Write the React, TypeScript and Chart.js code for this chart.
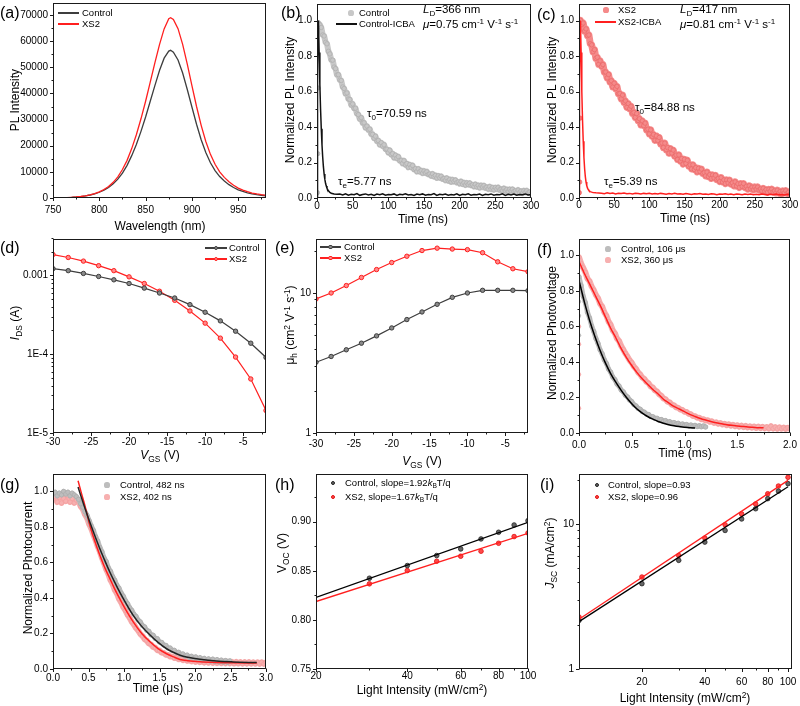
import React, { useEffect, useRef } from 'react';
import { Chart, registerables } from 'chart.js';
Chart.register(...registerables);

const FONT = '"Liberation Sans", Arial, Helvetica, sans-serif';
Chart.defaults.font.family = FONT;
Chart.defaults.font.size = 10;
Chart.defaults.color = '#000';

// ---------- (a) PL spectra ----------
const aWavelength = [750,755,760,765,770,775,780,785,790,795,800,805,810,815,820,825,830,835,840,845,850,855,860,865,870,875,877,880,885,890,895,900,905,910,915,920,925,930,935,940,945,950,955,960,965,970,975,980];
const aControl = [50,80,120,180,260,380,550,800,1150,1600,2200,3000,4000,5400,7200,9500,12500,16200,20500,25500,31000,37000,43000,48800,53500,56200,56500,55800,52800,47800,41500,34800,28200,22300,17400,13500,10500,8200,6500,5100,4000,3100,2500,2000,1600,1300,1050,850];
const aXS2 = [50,80,120,180,270,390,570,830,1200,1700,2350,3250,4400,6000,8100,10900,14400,18900,24200,30300,37000,44300,51700,58700,64700,68600,69000,68300,64800,58800,51200,43000,35000,27800,21600,16700,12900,10000,7900,6200,4900,3800,3000,2400,1900,1550,1250,1000];

// ---------- (b)/(c) TRPL ----------
const trplTime = [0.5,1,1.5,
2,4,6,8,10,12,14,16,18,20,22,24,26,28,30,32,34,36,38,40,42,44,46,48,50,52,54,56,58,60,
62,64,66,68,70,72,74,76,78,80,82,84,86,88,90,92,94,96,98,100,102,104,106,108,110,112,114,116,118,120,
122,124,126,128,130,132,134,136,138,140,142,144,146,148,150,152,154,156,158,160,162,164,166,168,170,172,174,176,178,180,
182,184,186,188,190,192,194,196,198,200,202,204,206,208,210,212,214,216,218,220,222,224,226,228,230,232,234,236,238,240,
242,244,246,248,250,252,254,256,258,260,262,264,266,268,270,272,274,276,278,280,282,284,286,288,290,292,294,296,298,300];
const bControl = [0.03,0.25,0.62,
0.985,0.976,0.961,0.919,0.913,0.878,0.869,0.827,0.812,0.778,
0.777,0.738,0.729,0.694,0.695,0.665,0.662,0.626,0.617,0.588,
0.592,0.558,0.555,0.524,0.530,0.505,0.506,0.475,0.470,0.445,
0.453,0.423,0.424,0.396,0.405,0.384,0.388,0.360,0.359,0.337,
0.348,0.321,0.324,0.300,0.312,0.293,0.300,0.275,0.275,0.256,
0.269,0.244,0.250,0.227,0.241,0.224,0.233,0.210,0.212,0.195,
0.210,0.187,0.194,0.173,0.188,0.173,0.183,0.161,0.165,0.149,
0.164,0.148,0.154,0.140,0.152,0.141,0.148,0.133,0.135,0.125,
0.136,0.120,0.127,0.113,0.125,0.114,0.122,0.107,0.110,0.100,
0.112,0.097,0.104,0.091,0.103,0.093,0.101,0.087,0.090,0.081,
0.093,0.078,0.086,0.073,0.085,0.076,0.084,0.071,0.074,0.065,
0.077,0.063,0.071,0.058,0.071,0.062,0.070,0.057,0.061,0.051,
0.064,0.050,0.058,0.046,0.059,0.050,0.059,0.046,0.050,0.041,
0.054,0.040,0.048,0.036,0.049,0.040,0.049,0.036,0.040,0.031,
0.045,0.031,0.039,0.027,0.041,0.032,0.041,0.029,0.033,0.024];
const cXS2 = [0.03,0.09,0.45,
1.001,0.977,0.986,0.941,0.953,0.915,0.919,0.870,0.863,0.824,
0.836,0.787,0.793,0.754,0.773,0.742,0.752,0.710,0.710,0.677,
0.696,0.654,0.661,0.626,0.647,0.617,0.629,0.588,0.589,0.559,
0.580,0.539,0.547,0.511,0.532,0.503,0.517,0.478,0.482,0.454,
0.476,0.437,0.447,0.412,0.435,0.408,0.422,0.384,0.388,0.361,
0.384,0.347,0.358,0.325,0.350,0.324,0.341,0.305,0.310,0.284,
0.309,0.272,0.284,0.252,0.278,0.253,0.270,0.235,0.242,0.217,
0.243,0.208,0.222,0.191,0.218,0.195,0.213,0.179,0.187,0.164,
0.187,0.160,0.171,0.147,0.167,0.149,0.163,0.138,0.143,0.125,
0.146,0.120,0.132,0.110,0.130,0.113,0.128,0.104,0.110,0.093,
0.115,0.090,0.102,0.081,0.102,0.085,0.101,0.078,0.085,0.069,
0.091,0.067,0.080,0.059,0.081,0.065,0.081,0.059,0.066,0.050,
0.069,0.052,0.061,0.046,0.062,0.050,0.062,0.045,0.051,0.040,
0.054,0.038,0.047,0.033,0.049,0.038,0.050,0.034,0.040,0.029,
0.044,0.028,0.037,0.023,0.040,0.029,0.041,0.026,0.032,0.021];
const icbaTime = [0,0.5,1,1.5,2,3,4,5,6,7,8,9,10,11,12,13,14,16,18,20,24,28,
32,36,40,44,48,52,56,60,64,68,72,76,80,84,88,92,96,100,104,108,112,116,120,124,128,132,136,140,144,148,152,156,160,164,168,172,176,180,184,188,192,196,200,204,208,212,216,220,224,228,232,236,240,244,248,252,256,260,264,268,272,276,280,284,288,292,296,300];
const bControlICBA = [0,0.3,0.75,0.97,1.0,0.82,0.64,0.5,0.39,0.3,0.23,0.175,0.135,0.105,0.083,0.067,0.055,0.04,0.032,0.027,0.023,0.021,
0.022,0.017,0.024,0.016,0.021,0.018,0.025,0.015,0.020,0.023,
0.017,0.021,0.014,0.022,0.019,0.024,0.016,0.020,0.018,0.023,
0.015,0.021,0.019,0.024,0.017,0.020,0.014,0.022,0.018,0.023,
0.016,0.020,0.019,0.025,0.015,0.021,0.018,0.022,0.016,0.020,
0.017,0.023,0.014,0.021,0.019,0.024,0.016,0.020,0.018,0.022,
0.015,0.021,0.019,0.023,0.016,0.020,0.018,0.024,0.015,0.021,
0.017,0.022,0.016,0.020,0.019,0.023,0.017,0.020];
const cXS2ICBA = [0.02,0.25,0.65,0.93,1.0,0.82,0.6,0.44,0.32,0.23,0.165,0.12,0.09,0.07,0.057,0.048,0.042,0.036,0.033,0.031,0.029,0.028,
0.027,0.024,0.029,0.025,0.028,0.023,0.027,0.025,0.028,0.024,
0.026,0.023,0.027,0.025,0.022,0.026,0.024,0.027,0.023,0.025,
0.022,0.026,0.024,0.021,0.025,0.023,0.026,0.022,0.024,0.021,
0.025,0.023,0.020,0.024,0.022,0.025,0.021,0.023,0.020,0.024,
0.022,0.019,0.023,0.021,0.024,0.020,0.022,0.019,0.023,0.021,
0.018,0.022,0.020,0.023,0.019,0.021,0.018,0.022,0.020,0.017,
0.021,0.019,0.022,0.018,0.020,0.017,0.021,0.019];

// ---------- (d)/(e) transistor ----------
const vgs = [-30,-28,-26,-24,-22,-20,-18,-16,-14,-12,-10,-8,-6,-4,-2];
const dControl = [1.22e-3,1.15e-3,1.06e-3,9.7e-4,8.8e-4,7.9e-4,6.9e-4,5.98e-4,5.17e-4,4.26e-4,3.41e-4,2.65e-4,1.96e-4,1.38e-4,9.1e-5];
const dXS2 = [1.84e-3,1.69e-3,1.52e-3,1.33e-3,1.15e-3,9.6e-4,7.9e-4,6.3e-4,4.83e-4,3.54e-4,2.48e-4,1.6e-4,9.2e-5,4.85e-5,1.93e-5];
const eControl = [3.2,3.52,3.93,4.38,4.94,5.63,6.46,7.32,8.3,9.31,10.0,10.45,10.45,10.45,10.4];
const eXS2 = [9.06,10.0,11.3,12.9,14.7,16.5,18.3,20.1,20.9,20.6,20.4,19.4,16.7,14.9,14.2];

// ---------- (f) TPV ----------
const tpvTime = [0,0.02,0.04,0.06,0.08,0.1,0.12,0.14,0.16,0.18,0.2,0.22,0.24,0.26,0.28,0.3,0.32,0.34,0.36,0.38,0.4,0.42,0.44,0.46,0.48,0.5,0.52,0.54,0.56,0.58,0.6,0.62,0.64,0.66,0.68,0.7,0.72,0.74,0.76,0.78,0.8,0.82,0.84,0.86,0.88,0.9,0.92,0.94,0.96,0.98,1,1.02,1.04,1.06,1.08,1.1,1.12,1.14,1.16,1.18,1.2,1.22,1.24,1.26,1.28,1.3,1.32,1.34,1.36,1.38,1.4,1.42,1.44,1.46,1.48,1.5,1.52,1.54,1.56,1.58,1.6,1.62,1.64,1.66,1.68,1.7,1.72,1.74,1.76,1.78,1.8,1.82,1.84,1.86,1.88,1.9,1.92,1.94,1.96,1.98,2];
const fControl = [0.88,0.83,0.77,0.735,0.68,0.648,0.602,0.572,0.532,0.505,
0.468,0.446,0.412,0.392,0.36,0.343,0.315,0.301,0.276,0.264,
0.242,0.232,0.212,0.203,0.186,0.177,0.16,0.153,0.139,0.134,
0.121,0.117,0.106,0.104,0.093,0.092,0.082,0.083,0.073,0.076,
0.066,0.07,0.06,0.064,0.055,0.059,0.05,0.055,0.046,0.051,
0.043,0.048,0.04,0.045,0.038,0.043,0.036,0.041,0.035,0.04,
0.034];
const fXS2 = [0.99,0.955,0.93,0.905,0.87,0.855,0.825,0.805,0.778,0.76,
0.728,0.712,0.68,0.66,0.628,0.61,0.578,0.562,0.532,0.518,
0.49,0.47,0.448,0.43,0.41,0.396,0.375,0.362,0.342,0.33,
0.312,0.304,0.288,0.28,0.262,0.256,0.24,0.234,0.218,0.21,
0.195,0.19,0.176,0.172,0.16,0.156,0.145,0.142,0.132,0.13,
0.12,0.118,0.108,0.106,0.096,0.095,0.086,0.086,0.077,0.078,
0.07,0.072,0.063,0.066,0.057,0.06,0.052,0.056,0.048,0.052,
0.044,0.049,0.041,0.046,0.038,0.044,0.035,0.042,0.033,0.04,
0.031,0.038,0.03,0.037,0.028,0.036,0.027,0.035,0.026,0.034,
0.025,0.038,0.025,0.033,0.024,0.032,0.024,0.031,0.023,0.03,
0.024];
const fRiseTime = [0,0,0,0];
const fControlRise = [0.55,0.66,0.74,0.8];
const fXS2Rise = [0.14,0.33,0.5,0.6];
const fFitTime = [0,0.05,0.1,0.15,0.2,0.25,0.3,0.35,0.4,0.45,0.5,0.55,0.6,0.65,0.7,0.75,0.8,0.85,0.9,0.95,1,1.05,1.1,1.15,1.2,1.25,1.3,1.35,1.4,1.45,1.5,1.55,1.6,1.65,1.7,1.75];
const fControlFit = [0.86,0.74,0.635,0.545,0.465,0.395,0.335,0.285,0.24,0.2,0.165,0.135,0.112,0.093,0.078,0.065,0.055,0.047,0.041,0.036,0.032,0.03,0.028];
const fXS2Fit = [0.965,0.9,0.84,0.78,0.72,0.655,0.59,0.535,0.475,0.425,0.38,0.34,0.305,0.275,0.245,0.22,0.19,0.17,0.15,0.135,0.12,0.105,0.093,0.082,0.073,0.065,0.058,0.052,0.047,0.043,0.04,0.037,0.034,0.032,0.03,0.029];

// ---------- (g) TPC ----------
const tpcTime = [0,0.03,0.06,0.09,0.12,0.15,0.18,0.21,0.24,0.27,0.3,0.33,0.36,0.39,0.42,0.45,0.48,0.51,0.54,0.57,0.6,0.63,0.66,0.69,0.72,0.75,0.78,0.81,0.84,0.87,0.9,0.93,0.96,0.99,1.02,1.05,1.08,1.11,1.14,1.17,1.2,1.23,1.26,1.29,1.32,1.35,1.38,1.41,1.44,1.47,1.5,1.53,1.56,1.59,1.62,1.65,1.68,1.71,1.74,1.77,1.8,1.83,1.86,1.89,1.92,1.95,1.98,2.01,2.04,2.07,2.1,2.13,2.16,2.19,2.22,2.25,2.28,2.31,2.34,2.37,2.4,2.43,2.46,2.49,2.52,2.55,2.58,2.61,2.64,2.67,2.7,2.73,2.76,2.79,2.82,2.85,2.88,2.91,2.94,2.97,3];
const gControl = [0.985,0.995,0.975,0.99,0.98,1.0,0.985,0.995,0.975,0.99,
0.98,0.97,0.955,0.93,0.91,0.885,0.865,0.835,0.805,0.78,
0.745,0.72,0.685,0.66,0.625,0.605,0.57,0.55,0.52,0.5,
0.472,0.455,0.428,0.41,0.385,0.368,0.345,0.33,0.308,0.296,
0.275,0.265,0.245,0.237,0.218,0.212,0.193,0.19,0.172,0.17,
0.152,0.15,0.135,0.133,0.118,0.118,0.104,0.105,0.092,0.094,
0.082,0.085,0.073,0.078,0.066,0.072,0.06,0.068,0.055,0.064,
0.051,0.06,0.048,0.057,0.045,0.055,0.042,0.053,0.04,0.05,
0.039,0.048,0.038,0.046];
const gXS2 = [0.955,0.97,0.94,0.965,0.935,0.96,0.945,0.975,0.94,0.96,
0.935,0.95,0.945,0.915,0.9,0.87,0.85,0.815,0.79,0.755,
0.725,0.69,0.66,0.625,0.595,0.56,0.535,0.5,0.478,0.445,
0.425,0.395,0.375,0.348,0.33,0.305,0.288,0.265,0.25,0.23,
0.216,0.197,0.186,0.168,0.16,0.144,0.138,0.124,0.12,0.106,
0.104,0.092,0.09,0.08,0.079,0.07,0.07,0.062,0.063,0.055,
0.058,0.05,0.054,0.046,0.05,0.043,0.048,0.04,0.046,0.038,
0.045,0.036,0.044,0.035,0.043,0.034,0.042,0.033,0.042,0.033,
0.041,0.032,0.041,0.032,0.04,0.031,0.04,0.031,0.039,0.03,
0.039,0.03,0.039,0.03,0.038,0.03,0.038,0.029,0.038,0.029,
0.037];
const gFitTime = [0.353,0.4,0.45,0.518,0.58,0.66,0.73,0.8,0.87,0.94,1.03,1.13,1.25,1.37,1.48,1.6,1.7,1.79,1.9,2.07,2.3,2.54,2.87];
const gControlFit = [1.024,0.965,0.905,0.827,0.76,0.677,0.61,0.546,0.488,0.433,0.368,0.302,0.24,0.19,0.15,0.114,0.093,0.077,0.066,0.055,0.045,0.04,0.036];
const gXS2Fit = [1.06,0.99,0.92,0.81,0.73,0.64,0.57,0.51,0.45,0.396,0.33,0.265,0.2,0.152,0.115,0.086,0.068,0.054,0.047,0.041,0.037,0.035,0.034];

// ---------- (h) Voc vs light ----------
const hLight = [30,40,50,60,70,80,90,100];
const hControl = [0.8424,0.8553,0.8655,0.8722,0.8824,0.8892,0.8966,0.901];
const hXS2 = [0.8367,0.8502,0.8597,0.8648,0.8699,0.878,0.8848,0.8885];
const hFitLight = [20,100];
const hControlFit = [0.8228,0.8992];
const hXS2Fit = [0.8187,0.888];

// ---------- (i) Jsc vs light ----------
const iLight = [10,20,30,40,50,60,70,80,90,100];
const iControl = [2.16,3.87,5.6,7.48,9.0,10.8,12.7,14.9,16.8,18.9];
const iXS2 = [2.28,4.3,6.05,7.97,9.85,11.7,13.7,16.1,18.2,20.9];
const iFitLight = [10,100];
const iControlFit = [2.12,18.0];
const iXS2Fit = [2.2,19.9];

// ---------- tick labels ----------
const aXTicks = [750,800,850,900,950];
const aYTicks = [0,10000,20000,30000,40000,50000,60000,70000];
const tauXTicks = [0,50,100,150,200,250,300];
const normYTicks = [0,0.2,0.4,0.6,0.8,1.0];
const vgsTicks = [-30,-25,-20,-15,-10,-5];
const dYTicks = [1e-5,1e-4,1e-3];
const dYLabels = ['1E-5','1E-4','0.001'];
const decadeTicks = [1,10];
const decadeLabels = ['1','10'];
const fXTicks = [0,0.5,1,1.5,2];
const gXTicks = [0,0.5,1,1.5,2,2.5,3];
const lightTicks = [20,40,60,80,100];
const lightMinor = [30,50,70,90];
const hYTicks = [0.75,0.8,0.85,0.9];

// ---------- helpers ----------
const DARK = '#3d3d3d';
const RED = '#ff1f1f';
const GREY = '#c8c8c8';
const GREYB = '#aeaeae';
const PINK = 'rgb(245,138,138)';
const PINKB = 'rgb(233,105,105)';
const GREY2 = '#bdbdbd';
const GREY2B = '#a9a9a9';
const PINK2 = '#f7b0b0';
const PINK2B = '#f29a9a';

const steps = (from: number, to: number, step: number) => {
  const out: number[] = [];
  for (let v = from; v <= to + 1e-9; v += step) out.push(+v.toFixed(6));
  return out;
};
const logMinor = (e0: number, e1: number) => {
  const out: number[] = [];
  for (let e = e0; e <= e1; e++) for (let m = 2; m <= 9; m++) out.push(m * Math.pow(10, e));
  return out;
};
const f1 = (v: number) => v.toFixed(1);
const f2 = (v: number) => v.toFixed(2);
const str = (v: number) => String(v);

type AxisSpec = { type: string; min: number; max: number; ticks: number[]; labels: string[]; minor: number[]; pad: number };
const lin = (min: number, max: number, ticks: number[], fmt: (v: number) => string, minor: number[], pad = 5): AxisSpec =>
  ({ type: 'linear', min, max, ticks, labels: ticks.map(fmt), minor, pad });
const lg = (min: number, max: number, ticks: number[], labels: string[], minor: number[], pad = 5): AxisSpec =>
  ({ type: 'logarithmic', min, max, ticks, labels, minor, pad });

const pts = (xs: number[], ys: number[], from = 0) => xs.slice(from, ys.length).map((x, i) => ({ x, y: ys[i + from] }));
const line = (xs: number[], ys: number[], color: string, width = 1.3, extra: any = {}) => ({
  data: pts(xs, ys), showLine: true, borderColor: color, borderWidth: width, pointRadius: 0, fill: false, ...extra,
});
// thick noisy band drawn through the measured points (background of the scatter cloud)
const band = (xs: number[], ys: number[], color: string, width: number, from = 0) => ({
  data: pts(xs, ys, from), showLine: true, borderColor: color, borderWidth: width, pointRadius: 0, fill: false,
  borderJoinStyle: 'round', borderCapStyle: 'round',
});
const dots = (xs: number[], ys: number[], color: string, r = 2.6, extra: any = {}) => ({
  data: pts(xs, ys), showLine: false, pointRadius: r, pointBackgroundColor: color, pointBorderWidth: 0, pointBorderColor: color, ...extra,
});
const lineMark = (xs: number[], ys: number[], color: string, fillc: string) => ({
  data: pts(xs, ys), showLine: true, borderColor: color, borderWidth: 1.2, pointRadius: 2.2,
  pointBackgroundColor: fillc, pointBorderColor: color, pointBorderWidth: 1,
});

const PL = 52, PT = 4, PR = 14, PB = 24;

function axisOptions(a: AxisSpec, dir: 'x' | 'y') {
  return {
    type: a.type, min: a.min, max: a.max, bounds: 'data', position: dir === 'x' ? 'bottom' : 'left',
    grid: { display: false, drawTicks: false },
    border: { display: false },
    ticks: {
      autoSkip: false, maxRotation: 0, minRotation: 0, padding: a.pad, color: '#000',
      font: { family: FONT, size: 10 },
      callback: (_v: any, i: number) => a.labels[i] ?? '',
    },
    afterBuildTicks: (s: any) => { s.ticks = a.ticks.map((v) => ({ value: v })); },
    afterFit: (s: any) => {
      if (dir === 'x') s.height = PB; else s.width = PL;
      s.paddingTop = 0; s.paddingBottom = 0; s.paddingLeft = 0; s.paddingRight = 0;
    },
  };
}

function framePlugin(xa: AxisSpec, ya: AxisSpec) {
  return {
    id: 'frameTicks',
    afterDraw(chart: any) {
      const { ctx, chartArea: c } = chart;
      const xs = chart.scales.x, ys = chart.scales.y;
      const l = Math.round(c.left) + 0.5, t = Math.round(c.top) + 0.5;
      const r = Math.round(c.right) - 0.5, b = Math.round(c.bottom) - 0.5;
      ctx.save();
      ctx.strokeStyle = '#1a1a1a';
      ctx.lineWidth = 1;
      ctx.strokeRect(l, t, r - l, b - t);
      ctx.beginPath();
      const xt = (v: number, len: number) => {
        const p = Math.round(xs.getPixelForValue(v)) + 0.5;
        if (p < l - 1 || p > r + 1) return;
        ctx.moveTo(p, b); ctx.lineTo(p, b + len);
      };
      const yt = (v: number, len: number) => {
        const p = Math.round(ys.getPixelForValue(v)) + 0.5;
        if (p < t - 1 || p > b + 1) return;
        ctx.moveTo(l, p); ctx.lineTo(l - len, p);
      };
      xa.ticks.forEach((v) => xt(v, 3.5));
      xa.minor.forEach((v) => xt(v, 2));
      ya.ticks.forEach((v) => yt(v, 3.5));
      ya.minor.forEach((v) => yt(v, 2));
      ctx.stroke();
      ctx.restore();
    },
  };
}

function Panel({ box, x, y, datasets }: { box: number[]; x: AxisSpec; y: AxisSpec; datasets: any[] }) {
  const ref = useRef<HTMLCanvasElement>(null);
  const [L, T, R, B] = box;
  const w = R - L + PL + PR, h = B - T + PT + PB;
  useEffect(() => {
    const chart = new Chart(ref.current as HTMLCanvasElement, {
      type: 'scatter',
      data: { datasets },
      options: {
        responsive: false, maintainAspectRatio: false, animation: false, devicePixelRatio: 1, events: [],
        layout: { padding: { left: 0, top: PT, right: PR, bottom: 0 } },
        plugins: { legend: { display: false }, tooltip: { enabled: false }, title: { display: false } },
        scales: { x: axisOptions(x, 'x'), y: axisOptions(y, 'y') } as any,
      } as any,
      plugins: [framePlugin(x, y)],
    });
    return () => chart.destroy();
  }, []);
  return <canvas ref={ref} width={w} height={h} style={{ position: 'absolute', left: L - PL, top: T - PT, width: w, height: h }} />;
}

// ---------- HTML text helpers ----------
const Sub = ({ children }: any) => <sub style={{ fontSize: '0.7em', verticalAlign: '-0.3em', lineHeight: 0 }}>{children}</sub>;
const Sup = ({ children }: any) => <sup style={{ fontSize: '0.7em', verticalAlign: '0.5em', lineHeight: 0 }}>{children}</sup>;

function Txt({ x, y, s = 12, mode = 'c', children, color = '#000' }: any) {
  const tr = mode === 'r' ? 'translate(-50%,-50%) rotate(-90deg)' : mode === 'l' ? 'translate(0,-50%)' : 'translate(-50%,-50%)';
  return (
    <div style={{ position: 'absolute', left: x, top: y, fontSize: s, fontFamily: FONT, lineHeight: 1, whiteSpace: 'nowrap', color, transform: tr }}>
      {children}
    </div>
  );
}
const LLine = ({ x1, x2, y, c, w = 1.5, mark }: any) => (
  <>
    <div style={{ position: 'absolute', left: x1, top: y - w / 2, width: x2 - x1, height: w, background: c }} />
    {mark ? <div style={{ position: 'absolute', left: (x1 + x2) / 2 - 2.2, top: y - 2.2, width: 4.4, height: 4.4, borderRadius: '50%', background: mark, boxSizing: 'border-box', border: `1px solid ${c}` }} /> : null}
  </>
);
const Dot = ({ x, y, r = 2.6, c, border }: any) => (
  <div style={{ position: 'absolute', left: x - r, top: y - r, width: 2 * r, height: 2 * r, borderRadius: '50%', background: c, boxSizing: 'border-box', border: border ? `0.8px solid ${border}` : 'none' }} />
);

export default function App() {
  const normMinor = steps(0.1, 1.0, 0.2);
  return (
    <div style={{ position: 'absolute', left: 0, top: 0, width: 800, height: 706, background: '#fff', overflow: 'hidden' }}>
      <Panel box={[53, 3, 266, 198]}
        x={lin(750, 980, aXTicks, str, steps(775, 980, 50), 6)}
        y={lin(0, 74600, aYTicks, str, steps(5000, 70000, 10000))}
        datasets={[line(aWavelength, aXS2, RED, 1.3), line(aWavelength, aControl, DARK, 1.3)]} />
      <Panel box={[317, 3, 531, 198]}
        x={lin(0, 300, tauXTicks, str, steps(25, 300, 50), 2)}
        y={lin(0, 1.095, normYTicks, f1, normMinor)}
        datasets={[
          line(icbaTime, bControlICBA, '#111', 1.5),
          dots(trplTime, bControl, GREY, 2.2, { pointBorderColor: GREYB, pointBorderWidth: 0.7 }),
          band(trplTime, bControl, GREY, 6, 3),
        ]} />
      <Panel box={[579, 3, 790, 198]}
        x={lin(0, 300, tauXTicks, str, steps(25, 300, 50), 1)}
        y={lin(0, 1.095, normYTicks, f1, normMinor)}
        datasets={[
          line(icbaTime, cXS2ICBA, RED, 1.5),
          dots(trplTime, cXS2, PINK, 2.2, { pointBorderColor: PINKB, pointBorderWidth: 0.7 }),
          band(trplTime, cXS2, PINK, 7, 3),
        ]} />
      <Panel box={[53, 238, 266, 433]}
        x={lin(-30, -2, vgsTicks, str, steps(-27.5, -2, 5), 3)}
        y={lg(1e-5, 2.9e-3, dYTicks, dYLabels, logMinor(-5, -3))}
        datasets={[lineMark(vgs, dControl, DARK, '#8a8a8a'), lineMark(vgs, dXS2, RED, '#ff8a8a')]} />
      <Panel box={[316, 238, 528, 433]}
        x={lin(-30, -2, vgsTicks, str, steps(-27.5, -2, 5), 5)}
        y={lg(1, 24.3, decadeTicks, decadeLabels, logMinor(0, 1))}
        datasets={[lineMark(vgs, eControl, DARK, '#8a8a8a'), lineMark(vgs, eXS2, RED, '#ff8a8a')]} />
      <Panel box={[579, 238, 790, 433]}
        x={lin(0, 2, fXTicks, f1, steps(0.25, 2, 0.5), 6)}
        y={lin(0, 1.095, normYTicks, f1, normMinor)}
        datasets={[
          line(fFitTime, fControlFit, '#000', 1.5, { cubicInterpolationMode: 'monotone' }),
          line(fFitTime, fXS2Fit, RED, 1.5, { cubicInterpolationMode: 'monotone' }),
          dots(tpvTime, fControl, GREY2, 2.2, { pointBorderColor: GREY2B, pointBorderWidth: 0.6 }),
          dots(fRiseTime, fControlRise, GREY2, 2.2),
          band(tpvTime, fControl, GREY2, 5),
          dots(tpvTime, fXS2, PINK2, 2.2, { pointBorderColor: PINK2B, pointBorderWidth: 0.6 }),
          dots(fRiseTime, fXS2Rise, PINK2, 2.2),
          band(tpvTime, fXS2, PINK2, 6),
        ]} />
      <Panel box={[53, 473, 266, 669]}
        x={lin(0, 3, gXTicks, f1, steps(0.25, 3, 0.5), 3)}
        y={lin(0, 1.1, normYTicks, f1, normMinor)}
        datasets={[
          line(gFitTime, gControlFit, '#222', 1.5, { cubicInterpolationMode: 'monotone' }),
          line(gFitTime, gXS2Fit, RED, 1.5, { cubicInterpolationMode: 'monotone' }),
          dots(tpcTime, gControl, GREY2, 2.2, { pointBorderColor: GREY2B, pointBorderWidth: 0.6 }),
          band(tpcTime, gControl, GREY2, 5),
          dots(tpcTime, gXS2, PINK2, 2.2, { pointBorderColor: PINK2B, pointBorderWidth: 0.6 }),
          band(tpcTime, gXS2, PINK2, 6),
        ]} />
      <Panel box={[316, 473, 528, 669]}
        x={lg(20, 100, lightTicks, lightTicks.map(str), lightMinor, 1)}
        y={lin(0.75, 0.9487, hYTicks, f2, steps(0.775, 0.95, 0.05))}
        datasets={[
          line(hFitLight, hControlFit, '#000', 1.3),
          line(hFitLight, hXS2Fit, RED, 1.3),
          dots(hLight, hControl, '#666', 2.3, { pointBorderColor: '#222', pointBorderWidth: 0.8 }),
          dots(hLight, hXS2, '#ff4a4a', 2.3, { pointBorderColor: '#e01010', pointBorderWidth: 0.8 }),
        ]} />
      <Panel box={[579, 473, 792, 669]}
        x={lg(10, 104.5, lightTicks, lightTicks.map(str), lightMinor, 7)}
        y={lg(1, 22.1, decadeTicks, decadeLabels, logMinor(0, 1))}
        datasets={[
          line(iFitLight, iControlFit, '#000', 1.3),
          line(iFitLight, iXS2Fit, RED, 1.3),
          dots(iLight, iControl, '#666', 2.3, { pointBorderColor: '#222', pointBorderWidth: 0.8 }),
          dots(iLight, iXS2, '#ff4a4a', 2.3, { pointBorderColor: '#e01010', pointBorderWidth: 0.8 }),
        ]} />

      {/* panel labels */}
      <Txt x={0} y={13} s={16} mode="l">(a)</Txt>
      <Txt x={281} y={13} s={16} mode="l">(b)</Txt>
      <Txt x={537} y={15} s={16} mode="l">(c)</Txt>
      <Txt x={0} y={248} s={16} mode="l">(d)</Txt>
      <Txt x={275} y={248} s={16} mode="l">(e)</Txt>
      <Txt x={537} y={250} s={16} mode="l">(f)</Txt>
      <Txt x={0} y={485} s={16} mode="l">(g)</Txt>
      <Txt x={275} y={485} s={16} mode="l">(h)</Txt>
      <Txt x={540} y={485} s={16} mode="l">(i)</Txt>

      {/* axis titles */}
      <Txt x={160} y={226}>Wavelength (nm)</Txt>
      <Txt x={15} y={100} mode="r">PL Intensity</Txt>
      <Txt x={423} y={219}>Time (ns)</Txt>
      <Txt x={290} y={100} mode="r">Normalized PL Intensity</Txt>
      <Txt x={685} y={218}>Time (ns)</Txt>
      <Txt x={552} y={100} mode="r">Normalized PL Intensity</Txt>
      <Txt x={160} y={455}><i>V</i><Sub>GS</Sub> (V)</Txt>
      <Txt x={15} y={323} mode="r"><i>I</i><Sub>DS</Sub> (A)</Txt>
      <Txt x={422} y={461}><i>V</i><Sub>GS</Sub> (V)</Txt>
      <Txt x={290} y={325} mode="r">μ<Sub>h</Sub> (cm<Sup>2</Sup> V<Sup>-1</Sup> s<Sup>-1</Sup>)</Txt>
      <Txt x={685} y={453}>Time (ms)</Txt>
      <Txt x={552} y={333} mode="r">Normalized Photovoltage</Txt>
      <Txt x={158} y={688}>Time (μs)</Txt>
      <Txt x={28} y={568} mode="r">Normalized Photocurrent</Txt>
      <Txt x={422} y={690}>Light Intensity (mW/cm<Sup>2</Sup>)</Txt>
      <Txt x={282} y={553} mode="r">V<Sub>OC</Sub> (V)</Txt>
      <Txt x={685} y={698}>Light Intensity (mW/cm<Sup>2</Sup>)</Txt>
      <Txt x={550} y={553} mode="r"><i>J</i><Sub>SC</Sub> (mA/cm<Sup>2</Sup>)</Txt>

      {/* annotations */}
      <Txt x={423} y={10} s={11.5} mode="l"><i>L</i><Sub>D</Sub>=366 nm</Txt>
      <Txt x={423} y={25} s={11.5} mode="l"><i>μ</i>=0.75 cm<Sup>-1</Sup> V<Sup>-1</Sup> s<Sup>-1</Sup></Txt>
      <Txt x={367} y={114} s={11.5} mode="l">τ<Sub>0</Sub>=70.59 ns</Txt>
      <Txt x={338} y={182} s={11.5} mode="l">τ<Sub>e</Sub>=5.77 ns</Txt>
      <Txt x={680} y={10} s={11.5} mode="l"><i>L</i><Sub>D</Sub>=417 nm</Txt>
      <Txt x={680} y={25} s={11.5} mode="l"><i>μ</i>=0.81 cm<Sup>-1</Sup> V<Sup>-1</Sup> s<Sup>-1</Sup></Txt>
      <Txt x={635} y={108} s={11.5} mode="l">τ<Sub>0</Sub>=84.88 ns</Txt>
      <Txt x={604} y={182} s={11.5} mode="l">τ<Sub>e</Sub>=5.39 ns</Txt>

      {/* legends */}
      <LLine x1={58} x2={79} y={13} c={DARK} />
      <Txt x={82} y={13} s={9.5} mode="l">Control</Txt>
      <LLine x1={58} x2={79} y={24} c={RED} />
      <Txt x={82} y={24} s={9.5} mode="l">XS2</Txt>

      <Dot x={351} y={13} c={GREY} />
      <Txt x={359} y={13} s={9.5} mode="l">Control</Txt>
      <LLine x1={336} x2={357} y={24} c={'#111'} w={2} />
      <Txt x={359} y={24} s={9.5} mode="l">Control-ICBA</Txt>

      <Dot x={606} y={10} c={PINK} />
      <Txt x={618} y={10} s={9.5} mode="l">XS2</Txt>
      <LLine x1={595} x2={616} y={22} c={RED} w={2} />
      <Txt x={618} y={22} s={9.5} mode="l">XS2-ICBA</Txt>

      <LLine x1={205} x2={227} y={248} c={DARK} w={1.2} mark={'#8a8a8a'} />
      <Txt x={229} y={248} s={9.5} mode="l">Control</Txt>
      <LLine x1={205} x2={227} y={259} c={RED} w={1.2} mark={'#ff8a8a'} />
      <Txt x={229} y={259} s={9.5} mode="l">XS2</Txt>

      <LLine x1={320} x2={341} y={247} c={DARK} w={1.2} mark={'#8a8a8a'} />
      <Txt x={344} y={247} s={9.5} mode="l">Control</Txt>
      <LLine x1={320} x2={341} y={258} c={RED} w={1.2} mark={'#ff8a8a'} />
      <Txt x={344} y={258} s={9.5} mode="l">XS2</Txt>

      <Dot x={608} y={249} c={GREY2} />
      <Txt x={621} y={249} s={9.5} mode="l">Control, 106 μs</Txt>
      <Dot x={608} y={260} c={PINK2} />
      <Txt x={621} y={260} s={9.5} mode="l">XS2, 360 μs</Txt>

      <Dot x={107} y={485} c={GREY2} />
      <Txt x={120} y={485} s={9.5} mode="l">Control, 482 ns</Txt>
      <Dot x={107} y={497} c={PINK2} />
      <Txt x={120} y={497} s={9.5} mode="l">XS2, 402 ns</Txt>

      <Dot x={333} y={483} r={2.3} c={'#666'} border={'#222'} />
      <Txt x={345} y={483} s={9.5} mode="l">Control, slope=1.92<i>k</i><Sub>B</Sub>T/q</Txt>
      <Dot x={333} y={497} r={2.3} c={'#ff4a4a'} border={'#e01010'} />
      <Txt x={345} y={497} s={9.5} mode="l">XS2, slope=1.67<i>k</i><Sub>B</Sub>T/q</Txt>

      <Dot x={597} y={485} r={2.3} c={'#666'} border={'#222'} />
      <Txt x={608} y={485} s={9.5} mode="l">Control, slope=0.93</Txt>
      <Dot x={597} y={497} r={2.3} c={'#ff4a4a'} border={'#e01010'} />
      <Txt x={608} y={497} s={9.5} mode="l">XS2, slope=0.96</Txt>
    </div>
  );
}
